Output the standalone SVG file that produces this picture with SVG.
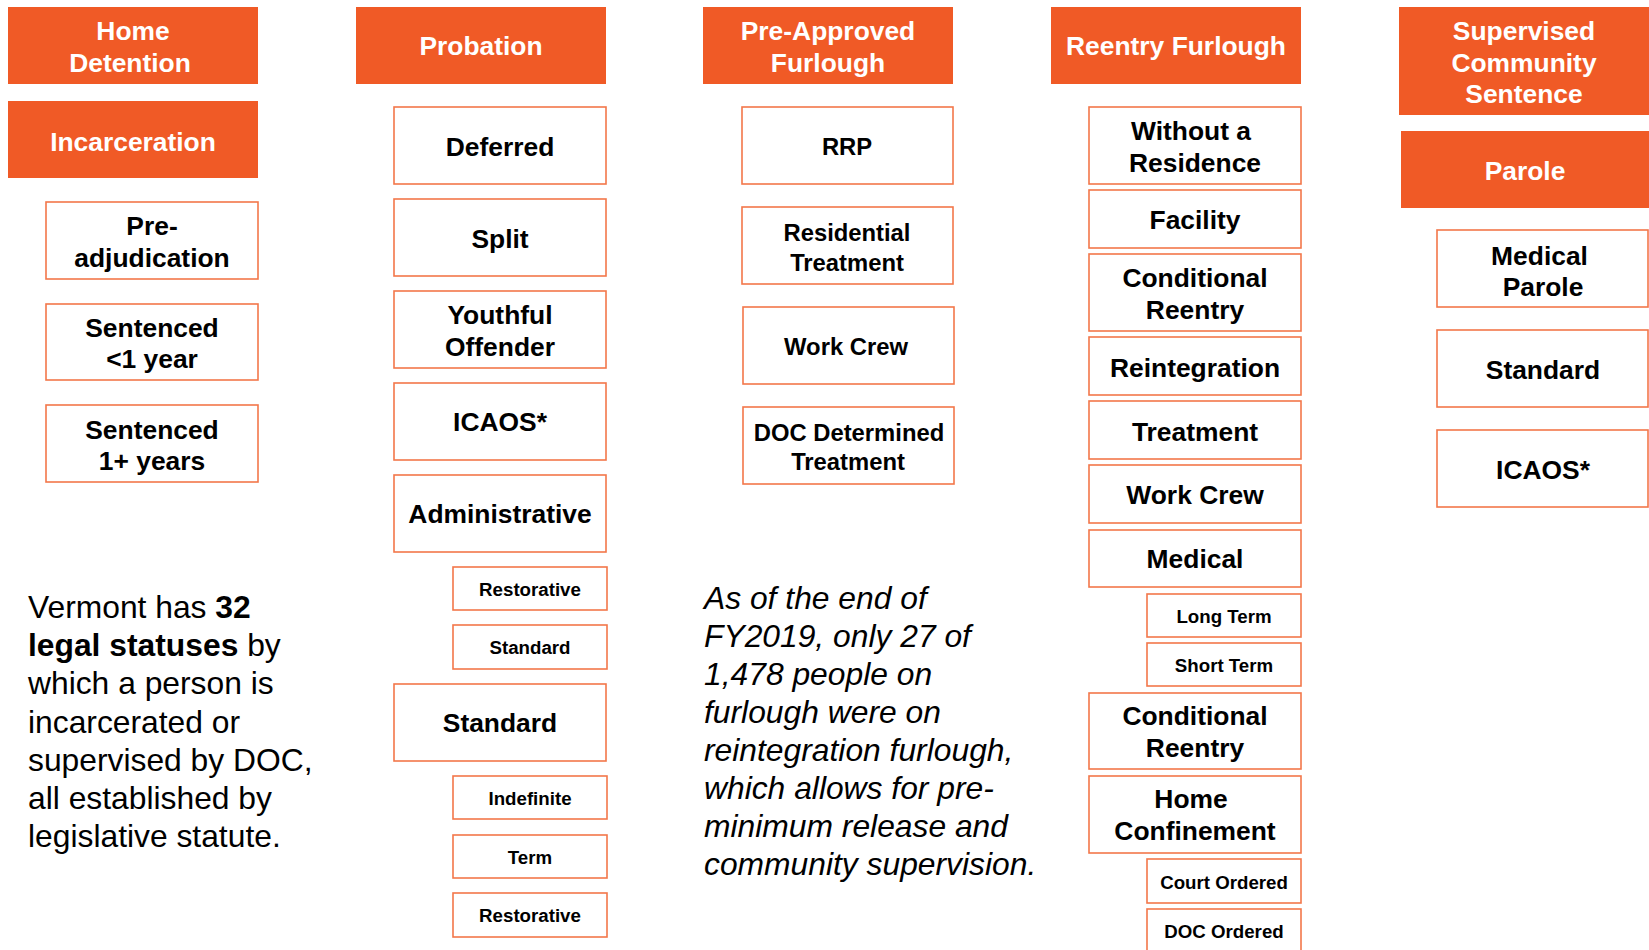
<svg xmlns="http://www.w3.org/2000/svg" width="1649" height="950" viewBox="0 0 1649 950">
  <style>
    text { font-family: "Liberation Sans", Arial, sans-serif; text-anchor: middle; }
    .hdr rect { fill: #F05A26; }
    .hdr text { fill: #FFFFFF; font-weight: bold; font-size: 26.4px; }
    .box rect { fill: #FFFFFF; stroke: #F3774A; stroke-width: 1.6; }
    .box text { fill: #000000; font-weight: bold; font-size: 26.4px; }
    .box text.m { font-size: 23.8px; }
    .sub rect { fill: #FFFFFF; stroke: #F3774A; stroke-width: 1.6; }
    .sub text { fill: #000000; font-weight: bold; font-size: 18.7px; }
    .note { fill: #000000; font-size: 31.8px; text-anchor: start; }
    .note .b { font-weight: bold; }
    .note.it { font-style: italic; }
  </style>

  <!-- Column 1: home detention / incarceration -->
  <g id="home-detention" class="hdr">
    <rect x="8" y="7" width="250" height="77"/>
    <text x="133" y="40">Home</text>
    <text x="130" y="72">Detention</text>
  </g>
  <g id="incarceration" class="hdr">
    <rect x="8" y="101" width="250" height="77"/>
    <text x="133" y="151">Incarceration</text>
  </g>
  <g id="pre-adjudication" class="box">
    <rect x="46" y="202" width="212" height="77"/>
    <text x="152" y="235">Pre-</text>
    <text x="152" y="267">adjudication</text>
  </g>
  <g id="sentenced-under-1" class="box">
    <rect x="46" y="304" width="212" height="76"/>
    <text x="152" y="337">Sentenced</text>
    <text x="152" y="368">&lt;1 year</text>
  </g>
  <g id="sentenced-1-plus" class="box">
    <rect x="46" y="405" width="212" height="77"/>
    <text x="152" y="439">Sentenced</text>
    <text x="152" y="470">1+ years</text>
  </g>

  <!-- Column 2: probation -->
  <g id="probation" class="hdr">
    <rect x="356" y="7" width="250" height="77"/>
    <text x="481" y="55">Probation</text>
  </g>
  <g id="prob-deferred" class="box">
    <rect x="394" y="107" width="212" height="77"/>
    <text x="500" y="156">Deferred</text>
  </g>
  <g id="prob-split" class="box">
    <rect x="394" y="199" width="212" height="77"/>
    <text x="500" y="248">Split</text>
  </g>
  <g id="prob-youthful" class="box">
    <rect x="394" y="291" width="212" height="77"/>
    <text x="500" y="324">Youthful</text>
    <text x="500" y="356">Offender</text>
  </g>
  <g id="prob-icaos" class="box">
    <rect x="394" y="383" width="212" height="77"/>
    <text x="500" y="431">ICAOS*</text>
  </g>
  <g id="prob-administrative" class="box">
    <rect x="394" y="475" width="212" height="77"/>
    <text x="500" y="523">Administrative</text>
  </g>
  <g id="admin-restorative" class="sub">
    <rect x="453" y="567" width="154" height="43"/>
    <text x="530" y="596">Restorative</text>
  </g>
  <g id="admin-standard" class="sub">
    <rect x="453" y="625" width="154" height="44"/>
    <text x="530" y="654">Standard</text>
  </g>
  <g id="prob-standard" class="box">
    <rect x="394" y="684" width="212" height="77"/>
    <text x="500" y="732">Standard</text>
  </g>
  <g id="std-indefinite" class="sub">
    <rect x="453" y="776" width="154" height="43"/>
    <text x="530" y="805">Indefinite</text>
  </g>
  <g id="std-term" class="sub">
    <rect x="453" y="835" width="154" height="43"/>
    <text x="530" y="864">Term</text>
  </g>
  <g id="std-restorative" class="sub">
    <rect x="453" y="893" width="154" height="44"/>
    <text x="530" y="922">Restorative</text>
  </g>

  <!-- Column 3: pre-approved furlough -->
  <g id="pre-approved-furlough" class="hdr">
    <rect x="703" y="7" width="250" height="77"/>
    <text x="828" y="40">Pre-Approved</text>
    <text x="828" y="72">Furlough</text>
  </g>
  <g id="paf-rrp" class="box">
    <rect x="742" y="107" width="211" height="77"/>
    <text class="m" x="847" y="155">RRP</text>
  </g>
  <g id="paf-residential" class="box">
    <rect x="742" y="207" width="211" height="77"/>
    <text class="m" x="847" y="241">Residential</text>
    <text class="m" x="847" y="271">Treatment</text>
  </g>
  <g id="paf-work-crew" class="box">
    <rect x="743" y="307" width="211" height="77"/>
    <text class="m" x="846" y="355">Work Crew</text>
  </g>
  <g id="paf-doc-treatment" class="box">
    <rect x="743" y="407" width="211" height="77"/>
    <text class="m" x="849" y="441">DOC Determined</text>
    <text class="m" x="848" y="470">Treatment</text>
  </g>

  <!-- Column 4: reentry furlough -->
  <g id="reentry-furlough" class="hdr">
    <rect x="1051" y="7" width="250" height="77"/>
    <text x="1176" y="55">Reentry Furlough</text>
  </g>
  <g id="rf-without-residence" class="box">
    <rect x="1089" y="107" width="212" height="77"/>
    <text x="1191" y="139.5">Without a</text>
    <text x="1195" y="171.5">Residence</text>
  </g>
  <g id="rf-facility" class="box">
    <rect x="1089" y="190" width="212" height="58"/>
    <text x="1195" y="229">Facility</text>
  </g>
  <g id="rf-conditional-reentry" class="box">
    <rect x="1089" y="254" width="212" height="77"/>
    <text x="1195" y="286.5">Conditional</text>
    <text x="1195" y="318.5">Reentry</text>
  </g>
  <g id="rf-reintegration" class="box">
    <rect x="1089" y="337" width="212" height="58"/>
    <text x="1195" y="376.5">Reintegration</text>
  </g>
  <g id="rf-treatment" class="box">
    <rect x="1089" y="401" width="212" height="58"/>
    <text x="1195" y="440.5">Treatment</text>
  </g>
  <g id="rf-work-crew" class="box">
    <rect x="1089" y="465" width="212" height="58"/>
    <text x="1195" y="504">Work Crew</text>
  </g>
  <g id="rf-medical" class="box">
    <rect x="1089" y="530" width="212" height="57"/>
    <text x="1195" y="568">Medical</text>
  </g>
  <g id="med-long-term" class="sub">
    <rect x="1147" y="594" width="154" height="43"/>
    <text x="1224" y="623">Long Term</text>
  </g>
  <g id="med-short-term" class="sub">
    <rect x="1147" y="643" width="154" height="43"/>
    <text x="1224" y="672">Short Term</text>
  </g>
  <g id="rf-conditional-reentry-2" class="box">
    <rect x="1089" y="693" width="212" height="76"/>
    <text x="1195" y="724.5">Conditional</text>
    <text x="1195" y="756.5">Reentry</text>
  </g>
  <g id="rf-home-confinement" class="box">
    <rect x="1089" y="776" width="212" height="77"/>
    <text x="1191" y="808">Home</text>
    <text x="1195" y="840">Confinement</text>
  </g>
  <g id="hc-court-ordered" class="sub">
    <rect x="1147" y="859" width="154" height="44"/>
    <text x="1224" y="888.5">Court Ordered</text>
  </g>
  <g id="hc-doc-ordered" class="sub">
    <rect x="1147" y="909" width="154" height="43"/>
    <text x="1224" y="938">DOC Ordered</text>
  </g>

  <!-- Column 5: supervised community sentence / parole -->
  <g id="supervised-community-sentence" class="hdr">
    <rect x="1399" y="7" width="252" height="108"/>
    <text x="1524" y="40">Supervised</text>
    <text x="1524" y="72">Community</text>
    <text x="1524" y="103">Sentence</text>
  </g>
  <g id="parole" class="hdr">
    <rect x="1401" y="131" width="250" height="77"/>
    <text x="1525" y="180">Parole</text>
  </g>
  <g id="parole-medical" class="box">
    <rect x="1437" y="230" width="211" height="77"/>
    <text x="1539.5" y="265">Medical</text>
    <text x="1543" y="296">Parole</text>
  </g>
  <g id="parole-standard" class="box">
    <rect x="1437" y="330" width="211" height="77"/>
    <text x="1543" y="379">Standard</text>
  </g>
  <g id="parole-icaos" class="box">
    <rect x="1437" y="430" width="211" height="77"/>
    <text x="1543" y="479">ICAOS*</text>
  </g>

  <!-- Notes -->
  <g id="note-statuses">
    <text class="note" x="28" y="618">Vermont has <tspan class="b">32</tspan></text>
    <text class="note" x="28" y="656"><tspan class="b">legal statuses</tspan> by</text>
    <text class="note" x="28" y="694">which a person is</text>
    <text class="note" x="28" y="733">incarcerated or</text>
    <text class="note" x="28" y="771">supervised by DOC,</text>
    <text class="note" x="28" y="809">all established by</text>
    <text class="note" x="28" y="847">legislative statute.</text>
  </g>
  <g id="note-furlough">
    <text class="note it" x="704" y="609">As of the end of</text>
    <text class="note it" x="704" y="647">FY2019, only 27 of</text>
    <text class="note it" x="704" y="685">1,478 people on</text>
    <text class="note it" x="704" y="723">furlough were on</text>
    <text class="note it" x="704" y="761">reintegration furlough,</text>
    <text class="note it" x="704" y="799">which allows for pre-</text>
    <text class="note it" x="704" y="837">minimum release and</text>
    <text class="note it" x="704" y="875">community supervision.</text>
  </g>
</svg>
